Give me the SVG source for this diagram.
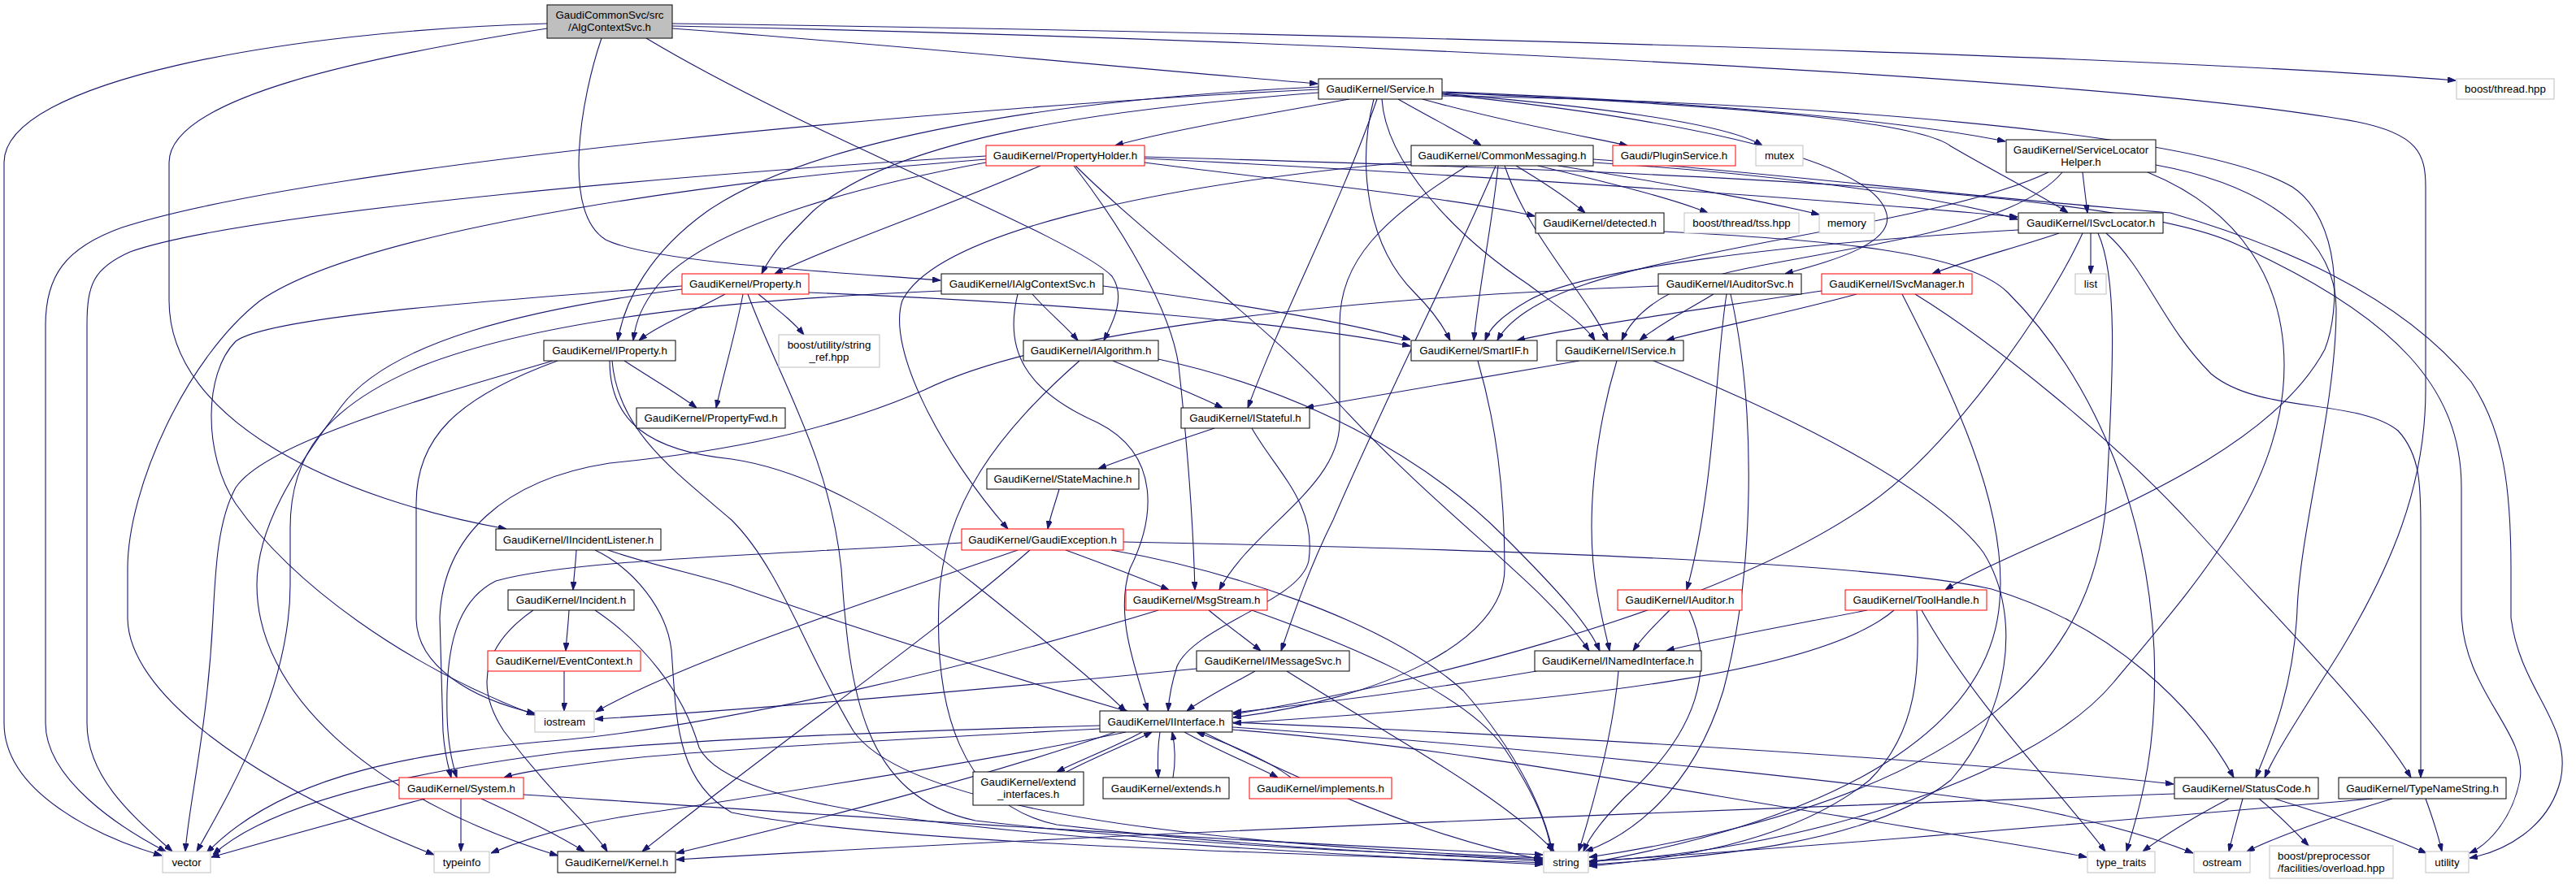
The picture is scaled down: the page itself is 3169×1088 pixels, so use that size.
<svg xmlns="http://www.w3.org/2000/svg" width="3169" height="1088" viewBox="0 0 3169 1088">
<defs>
<marker id="a" markerWidth="10" markerHeight="7" refX="10" refY="3.5" orient="auto" markerUnits="userSpaceOnUse"><path d="M0,0 L10,3.5 L0,7 z" fill="#191970" stroke="#191970" stroke-width="1"/></marker>
<style>
.e{fill:none;stroke:#191970;stroke-width:1.1;marker-end:url(#a)}
.n rect{fill:#fff;stroke:#000;stroke-width:1}
.r rect{fill:#fff;stroke:#ff0000;stroke-width:1}
.g rect{fill:#fff;stroke:#bfbfbf;stroke-width:1}
.root rect{fill:#bfbfbf;stroke:#000;stroke-width:1}
text{font-family:"Liberation Sans",Arial,Helvetica,sans-serif;font-size:13.3px;fill:#000;text-anchor:middle}
</style>
</defs>
<rect width="3169" height="1088" fill="#fff"/>
<g id="edges">
<path class="e" d="M673,29 C350,38 5,100 5,200 L5,890 C5,975 120,1030 199,1053"/>
<path class="e" d="M673,35 C450,70 208,120 208,200 L208,370 C208,520 420,615 623,651"/>
<path class="e" d="M740,47 C715,120 690,260 745,295 C800,322 1000,333 1157,345"/>
<path class="e" d="M795,47 C1000,170 1320,290 1368,340 C1385,365 1370,395 1358,419"/>
<path class="e" d="M827,35 C1100,55 1400,85 1621,103"/>
<path class="e" d="M827,29 C1500,38 2600,65 3021,99"/>
<path class="e" d="M827,32 C1600,48 2600,95 2900,150 C2975,165 2984,190 2984,230 L2984,480 C2984,600 2940,700 2880,800 C2830,880 2800,925 2786,957"/>
<path class="e" d="M1622,110 C1200,130 400,200 150,280 C80,305 56,340 56,400 L56,890 C56,960 150,1020 204,1048"/>
<path class="e" d="M1660,122 C1560,140 1440,160 1372,179"/>
<path class="e" d="M1622,114 C1350,135 1100,170 1000,260 C970,290 950,310 937,337"/>
<path class="e" d="M1622,107 C1300,122 1000,170 870,260 C800,310 768,370 760,419"/>
<path class="e" d="M1720,122 C1760,145 1800,165 1822,179"/>
<path class="e" d="M1750,122 C1850,150 1950,168 2002,179"/>
<path class="e" d="M1774,115 C1950,130 2120,150 2168,179"/>
<path class="e" d="M1774,113 C2100,125 2350,150 2467,174"/>
<path class="e" d="M1774,114 C2150,130 2360,150 2400,180 C2460,215 2520,245 2544,262"/>
<path class="e" d="M1690,122 C1670,200 1680,300 1740,360 C1760,380 1775,400 1784,419"/>
<path class="e" d="M1700,122 C1705,200 1790,290 1880,350 C1920,380 1950,400 1962,419"/>
<path class="e" d="M1694,122 C1650,250 1580,380 1535,502"/>
<path class="e" d="M1774,116 C2100,150 2300,200 2320,260 C2335,300 2250,322 2196,337"/>
<path class="e" d="M1774,118 C2200,125 2700,160 2820,230 C2880,270 2880,380 2860,430 C2780,580 2500,660 2393,726"/>
<path class="e" d="M1213,192 C900,210 300,260 160,310 C115,330 107,350 107,400 L107,890 C107,960 170,1010 212,1048"/>
<path class="e" d="M1213,196 C900,220 450,280 320,370 C230,440 157,600 157,700 L157,760 C157,850 300,960 534,1052"/>
<path class="e" d="M1280,204 C1150,260 1030,300 953,337"/>
<path class="e" d="M1213,200 C1050,230 870,280 810,350 C790,375 782,395 779,419"/>
<path class="e" d="M1321,204 C1380,280 1440,380 1450,450 C1462,560 1468,650 1470,726"/>
<path class="e" d="M1323,204 C1420,300 1560,400 1650,500 C1780,640 1900,720 1955,801"/>
<path class="e" d="M1408,200 C1600,225 1800,245 1888,266"/>
<path class="e" d="M1408,195 C1900,220 2300,250 2482,267"/>
<path class="e" d="M1408,193 C2000,210 2600,230 2750,300 C2950,390 3028,480 3028,600 L3028,750 C3028,850 3110,900 3100,960 C3090,1010 3060,1040 3038,1050"/>
<path class="e" d="M1736,199 C1400,230 1150,290 1110,370 C1090,430 1160,560 1240,651"/>
<path class="e" d="M1805,204 C1700,270 1648,320 1648,400 L1648,520 C1648,600 1540,650 1500,726"/>
<path class="e" d="M1840,204 C1800,300 1700,500 1640,640 C1610,700 1590,760 1576,801"/>
<path class="e" d="M1843,204 C1835,280 1820,350 1813,419"/>
<path class="e" d="M1851,204 C1880,290 1950,360 1978,419"/>
<path class="e" d="M1865,204 C1900,225 1930,245 1950,262"/>
<path class="e" d="M1892,204 C1980,225 2060,245 2101,262"/>
<path class="e" d="M1917,204 C2050,225 2180,250 2238,264"/>
<path class="e" d="M1960,200 C2200,215 2400,245 2482,270"/>
<path class="e" d="M1960,196 C2200,215 2400,240 2670,262 C2800,300 2950,360 3040,470 C3080,530 3089,600 3089,700 L3089,760 C3100,850 3165,890 3150,960 C3135,1020 3080,1048 3038,1056"/>
<path class="e" d="M2562,212 C2564,230 2566,245 2568,262"/>
<path class="e" d="M2652,203 C2800,230 2874,300 2874,380 C2874,500 2830,650 2826,750 C2822,850 2790,920 2775,957"/>
<path class="e" d="M2642,212 C2760,260 2810,350 2810,450 C2810,600 2700,720 2600,840 C2500,960 2200,1050 1955,1060"/>
<path class="e" d="M2520,212 C2400,270 2100,300 1950,350 C1890,370 1855,395 1842,419"/>
<path class="e" d="M2537,212 C2480,280 2300,300 2150,330 C2050,350 2010,385 1995,419"/>
<path class="e" d="M2533,287 C2480,305 2420,320 2377,337"/>
<path class="e" d="M2572,287 L2572,337"/>
<path class="e" d="M2562,287 C2520,380 2400,550 2300,620 C2100,760 1700,850 1517,879"/>
<path class="e" d="M2581,287 C2605,340 2600,450 2592,600 C2585,800 2450,980 1955,1055"/>
<path class="e" d="M2591,287 C2640,330 2660,400 2720,460 C2780,510 2900,490 2950,530 C2978,560 2978,600 2978,650 L2978,957"/>
<path class="e" d="M2483,283 C2200,300 1950,330 1880,370 C1845,390 1832,405 1827,419"/>
<path class="e" d="M2284,362 C2200,385 2100,405 2050,419"/>
<path class="e" d="M2241,358 C2100,380 1950,400 1866,419"/>
<path class="e" d="M2356,362 C2450,420 2600,540 2700,650 C2800,760 2920,880 2966,957"/>
<path class="e" d="M2340,362 C2400,480 2470,620 2460,740 C2450,880 2300,1000 1955,1062"/>
<path class="e" d="M2108,362 C2070,385 2040,400 2017,419"/>
<path class="e" d="M2124,362 C2110,450 2110,600 2075,726"/>
<path class="e" d="M2129,362 C2160,500 2160,700 2120,850 C2080,980 2000,1030 1950,1048"/>
<path class="e" d="M2040,352 C1700,365 1300,400 1137,480 C1000,540 850,560 750,570 C620,590 545,660 541,760 L545,900 C547,930 552,945 555,957"/>
<path class="e" d="M1270,362 C1290,385 1310,400 1326,419"/>
<path class="e" d="M1252,362 C1235,430 1260,480 1350,520 C1430,560 1420,640 1390,700 C1370,760 1400,830 1412,875"/>
<path class="e" d="M1158,358 C1000,365 700,380 520,450 C400,500 357,560 357,650 L357,720 C357,850 280,980 242,1048"/>
<path class="e" d="M1357,352 C1500,370 1650,395 1735,418"/>
<path class="e" d="M892,362 C850,385 810,400 786,419"/>
<path class="e" d="M914,362 C905,410 890,460 881,502"/>
<path class="e" d="M933,362 C955,380 975,395 989,412"/>
<path class="e" d="M920,362 C960,470 1020,560 1035,700 C1045,850 1060,980 1200,1010 C1500,1045 1750,1050 1898,1058"/>
<path class="e" d="M995,360 C1300,372 1600,398 1735,426"/>
<path class="e" d="M839,352 C600,370 330,390 290,420 C250,460 250,560 290,620 C360,720 500,820 658,880"/>
<path class="e" d="M839,356 C650,380 480,420 420,500 C360,580 316,650 316,720 C316,850 450,980 686,1053"/>
<path class="e" d="M768,444 C800,465 835,485 857,502"/>
<path class="e" d="M686,444 C560,490 512,540 512,620 L512,760 C512,820 580,860 658,878"/>
<path class="e" d="M680,444 C560,480 330,540 290,600 C268,640 265,700 262,760 C255,900 232,990 228,1048"/>
<path class="e" d="M750,444 C750,520 800,555 900,565 C1000,580 1100,640 1200,720 C1300,800 1360,850 1385,876"/>
<path class="e" d="M753,444 C760,530 830,580 900,640 C960,700 990,800 1050,900 C1120,1000 1500,1040 1898,1056"/>
<path class="e" d="M1369,444 C1420,465 1470,485 1504,502"/>
<path class="e" d="M1425,442 C1600,480 1750,560 1850,660 C1920,730 1955,770 1968,801"/>
<path class="e" d="M1328,444 C1230,530 1160,620 1155,740 C1150,870 1180,990 1300,1015 C1550,1045 1780,1052 1898,1060"/>
<path class="e" d="M1818,444 C1840,520 1851,600 1851,700 C1851,790 1700,860 1517,883"/>
<path class="e" d="M1943,444 C1820,465 1700,485 1606,502"/>
<path class="e" d="M1989,444 C1960,540 1950,650 1965,730 C1972,770 1978,790 1980,801"/>
<path class="e" d="M2034,444 C2200,510 2380,600 2440,680 C2490,760 2470,880 2400,960 C2300,1040 2100,1055 1955,1064"/>
<path class="e" d="M1494,527 C1440,545 1390,562 1351,577"/>
<path class="e" d="M1540,527 C1570,580 1620,620 1610,690 C1600,740 1470,770 1448,820 C1440,845 1438,860 1437,875"/>
<path class="e" d="M1303,602 C1298,620 1292,635 1289,651"/>
<path class="e" d="M709,677 C708,695 706,710 705,726"/>
<path class="e" d="M748,677 C800,695 850,705 900,720 C1100,790 1300,850 1388,876"/>
<path class="e" d="M732,677 C780,700 820,750 826,800 C832,880 830,960 900,1000 C1100,1040 1600,1050 1898,1062"/>
<path class="e" d="M1311,677 C1360,695 1405,712 1438,726"/>
<path class="e" d="M1183,668 C900,685 700,690 610,715 C560,740 548,800 550,880 C551,920 558,945 562,957"/>
<path class="e" d="M1382,667 C1800,675 2300,690 2450,725 C2600,770 2700,870 2748,957"/>
<path class="e" d="M1252,677 C1100,730 850,810 733,876"/>
<path class="e" d="M1267,677 C1150,780 950,920 790,1048"/>
<path class="e" d="M1367,677 C1500,700 1700,760 1800,850 C1870,930 1900,1000 1910,1048"/>
<path class="e" d="M700,751 C699,770 697,785 696,801"/>
<path class="e" d="M656,751 C600,790 580,840 620,900 C680,980 730,1020 747,1048"/>
<path class="e" d="M732,751 C790,790 840,850 860,920 C900,1000 1200,1030 1898,1064"/>
<path class="e" d="M1487,751 C1510,770 1535,788 1551,801"/>
<path class="e" d="M1425,751 C1200,820 900,890 700,910 C520,925 350,950 254,1050"/>
<path class="e" d="M1540,751 C1650,790 1800,850 1850,920 C1890,980 1905,1020 1908,1048"/>
<path class="e" d="M2054,751 C2035,770 2020,785 2009,801"/>
<path class="e" d="M2078,751 C2110,820 2090,900 2000,980 C1970,1010 1955,1030 1948,1048"/>
<path class="e" d="M2297,751 C2200,770 2100,788 2050,801"/>
<path class="e" d="M2330,751 C2250,820 2000,860 1517,890"/>
<path class="e" d="M2358,751 C2362,820 2360,900 2300,960 C2200,1040 2050,1058 1955,1066"/>
<path class="e" d="M2364,751 C2430,870 2540,980 2590,1048"/>
<path class="e" d="M694,826 C694,845 694,860 694,875"/>
<path class="e" d="M1472,823 C1200,850 900,875 732,885"/>
<path class="e" d="M1544,826 C1510,845 1480,860 1460,875"/>
<path class="e" d="M1583,826 C1700,900 1850,980 1912,1048"/>
<path class="e" d="M1890,826 C1750,850 1600,868 1517,877"/>
<path class="e" d="M1991,826 C1985,900 1960,990 1942,1048"/>
<path class="e" d="M1405,901 C1370,920 1330,935 1300,950"/>
<path class="e" d="M1312,950 C1350,930 1390,915 1417,901"/>
<path class="e" d="M1427,901 C1424,920 1424,940 1425,957"/>
<path class="e" d="M1443,957 C1446,940 1446,920 1442,901"/>
<path class="e" d="M1457,901 C1500,925 1550,945 1572,957"/>
<path class="e" d="M1588,957 C1560,935 1510,915 1472,901"/>
<path class="e" d="M1353,893 C1100,900 850,910 700,925 C500,950 330,990 262,1052"/>
<path class="e" d="M1353,897 C1100,910 850,925 760,935 C680,945 640,950 620,957"/>
<path class="e" d="M1385,901 C1200,940 900,985 780,1003 C700,1015 640,1035 604,1050"/>
<path class="e" d="M1372,901 C1200,960 1000,1010 832,1050"/>
<path class="e" d="M1516,889 C1900,905 2400,935 2674,965"/>
<path class="e" d="M1516,895 C1900,920 2400,975 2500,995 C2600,1015 2660,1035 2698,1050"/>
<path class="e" d="M1516,898 C1800,920 2100,980 2300,1010 C2450,1035 2520,1045 2567,1055"/>
<path class="e" d="M1480,901 C1600,960 1750,1030 1897,1058"/>
<path class="e" d="M523,983 C420,1010 330,1035 260,1055"/>
<path class="e" d="M567,983 C567,1005 567,1030 567,1048"/>
<path class="e" d="M592,983 C640,1005 690,1030 719,1048"/>
<path class="e" d="M644,978 C900,995 1400,1030 1898,1052"/>
<path class="e" d="M2675,977 C2000,1000 1300,1030 832,1058"/>
<path class="e" d="M2742,983 C2700,1005 2660,1030 2636,1048"/>
<path class="e" d="M2759,983 C2753,1005 2746,1030 2742,1048"/>
<path class="e" d="M2779,983 C2800,1000 2825,1025 2840,1041"/>
<path class="e" d="M2798,983 C2870,1005 2940,1030 2985,1050"/>
<path class="e" d="M2919,983 C2600,1010 2200,1045 1955,1060"/>
<path class="e" d="M2943,983 C2870,1005 2800,1030 2764,1048"/>
<path class="e" d="M2984,983 C2992,1005 3000,1030 3004,1048"/>
<path class="e" d="M2047,285 C2250,295 2420,310 2470,360 C2560,450 2640,600 2650,800 C2655,930 2630,1000 2616,1048"/>
</g>
<g id="n_root" class="root"><rect x="673" y="6" width="154" height="41"/><text x="750" y="22.5">GaudiCommonSvc/src</text><text x="750" y="37.5">/AlgContextSvc.h</text></g>
<g id="n_service" class="n"><rect x="1622" y="97" width="152" height="25"/><text x="1698" y="114">GaudiKernel/Service.h</text></g>
<g id="n_bthread" class="g"><rect x="3022" y="97" width="120" height="25"/><text x="3082" y="114">boost/thread.hpp</text></g>
<g id="n_propholder" class="r"><rect x="1213" y="179" width="195" height="25"/><text x="1310.5" y="196">GaudiKernel/PropertyHolder.h</text></g>
<g id="n_commonmsg" class="n"><rect x="1736" y="179" width="224" height="25"/><text x="1848" y="196">GaudiKernel/CommonMessaging.h</text></g>
<g id="n_plugin" class="r"><rect x="1984" y="179" width="151" height="25"/><text x="2059.5" y="196">Gaudi/PluginService.h</text></g>
<g id="n_mutex" class="g"><rect x="2160" y="179" width="58" height="25"/><text x="2189" y="196">mutex</text></g>
<g id="n_slhelper" class="n"><rect x="2468" y="172" width="184" height="40"/><text x="2560" y="188.5">GaudiKernel/ServiceLocator</text><text x="2560" y="203.5">Helper.h</text></g>
<g id="n_detected" class="n"><rect x="1889" y="262" width="158" height="25"/><text x="1968" y="279">GaudiKernel/detected.h</text></g>
<g id="n_tss" class="g"><rect x="2072" y="262" width="141" height="25"/><text x="2142.5" y="279">boost/thread/tss.hpp</text></g>
<g id="n_memory" class="g"><rect x="2238" y="262" width="68" height="25"/><text x="2272" y="279">memory</text></g>
<g id="n_isvclocator" class="n"><rect x="2483" y="262" width="178" height="25"/><text x="2572" y="279">GaudiKernel/ISvcLocator.h</text></g>
<g id="n_property" class="r"><rect x="839" y="337" width="156" height="25"/><text x="917" y="354">GaudiKernel/Property.h</text></g>
<g id="n_ialgctx" class="n"><rect x="1158" y="337" width="199" height="25"/><text x="1257.5" y="354">GaudiKernel/IAlgContextSvc.h</text></g>
<g id="n_iauditorsvc" class="n"><rect x="2040" y="337" width="176" height="25"/><text x="2128" y="354">GaudiKernel/IAuditorSvc.h</text></g>
<g id="n_isvcmanager" class="r"><rect x="2241" y="337" width="185" height="25"/><text x="2333.5" y="354">GaudiKernel/ISvcManager.h</text></g>
<g id="n_list" class="g"><rect x="2553" y="337" width="38" height="25"/><text x="2572" y="354">list</text></g>
<g id="n_iproperty" class="n"><rect x="669" y="419" width="162" height="25"/><text x="750" y="436">GaudiKernel/IProperty.h</text></g>
<g id="n_bstring" class="g"><rect x="958" y="412" width="124" height="40"/><text x="1020" y="428.5">boost/utility/string</text><text x="1020" y="443.5">_ref.hpp</text></g>
<g id="n_ialgorithm" class="n"><rect x="1259" y="419" width="166" height="25"/><text x="1342" y="436">GaudiKernel/IAlgorithm.h</text></g>
<g id="n_smartif" class="n"><rect x="1736" y="419" width="155" height="25"/><text x="1813.5" y="436">GaudiKernel/SmartIF.h</text></g>
<g id="n_iservice" class="n"><rect x="1915" y="419" width="156" height="25"/><text x="1993" y="436">GaudiKernel/IService.h</text></g>
<g id="n_propfwd" class="n"><rect x="783" y="502" width="183" height="25"/><text x="874.5" y="519">GaudiKernel/PropertyFwd.h</text></g>
<g id="n_istateful" class="n"><rect x="1453" y="502" width="158" height="25"/><text x="1532" y="519">GaudiKernel/IStateful.h</text></g>
<g id="n_statemachine" class="n"><rect x="1214" y="577" width="187" height="25"/><text x="1307.5" y="594">GaudiKernel/StateMachine.h</text></g>
<g id="n_iinclistener" class="n"><rect x="610" y="651" width="203" height="26"/><text x="711.5" y="668.5">GaudiKernel/IIncidentListener.h</text></g>
<g id="n_gaudiexc" class="r"><rect x="1183" y="651" width="199" height="26"/><text x="1282.5" y="668.5">GaudiKernel/GaudiException.h</text></g>
<g id="n_incident" class="n"><rect x="625" y="726" width="155" height="25"/><text x="702.5" y="743">GaudiKernel/Incident.h</text></g>
<g id="n_msgstream" class="r"><rect x="1385" y="726" width="174" height="25"/><text x="1472" y="743">GaudiKernel/MsgStream.h</text></g>
<g id="n_iauditor" class="r"><rect x="1990" y="726" width="153" height="25"/><text x="2066.5" y="743">GaudiKernel/IAuditor.h</text></g>
<g id="n_toolhandle" class="r"><rect x="2270" y="726" width="174" height="25"/><text x="2357" y="743">GaudiKernel/ToolHandle.h</text></g>
<g id="n_eventctx" class="r"><rect x="600" y="801" width="188" height="25"/><text x="694" y="818">GaudiKernel/EventContext.h</text></g>
<g id="n_imsgsvc" class="n"><rect x="1472" y="801" width="188" height="25"/><text x="1566" y="818">GaudiKernel/IMessageSvc.h</text></g>
<g id="n_inamed" class="n"><rect x="1888" y="801" width="205" height="25"/><text x="1990.5" y="818">GaudiKernel/INamedInterface.h</text></g>
<g id="n_iostream" class="g"><rect x="658" y="875" width="73" height="26"/><text x="694.5" y="892.5">iostream</text></g>
<g id="n_iinterface" class="n"><rect x="1353" y="875" width="163" height="26"/><text x="1434.5" y="892.5">GaudiKernel/IInterface.h</text></g>
<g id="n_system" class="r"><rect x="491" y="957" width="153" height="26"/><text x="567.5" y="974.5">GaudiKernel/System.h</text></g>
<g id="n_extendif" class="n"><rect x="1197" y="950" width="136" height="41"/><text x="1265" y="966.5">GaudiKernel/extend</text><text x="1265" y="981.5">_interfaces.h</text></g>
<g id="n_extends" class="n"><rect x="1357" y="957" width="155" height="26"/><text x="1434.5" y="974.5">GaudiKernel/extends.h</text></g>
<g id="n_implements" class="r"><rect x="1537" y="957" width="175" height="26"/><text x="1624.5" y="974.5">GaudiKernel/implements.h</text></g>
<g id="n_statuscode" class="n"><rect x="2675" y="957" width="177" height="26"/><text x="2763.5" y="974.5">GaudiKernel/StatusCode.h</text></g>
<g id="n_typename" class="n"><rect x="2877" y="957" width="206" height="26"/><text x="2980" y="974.5">GaudiKernel/TypeNameString.h</text></g>
<g id="n_vector" class="g"><rect x="200" y="1048" width="59" height="26"/><text x="229.5" y="1065.5">vector</text></g>
<g id="n_typeinfo" class="g"><rect x="534" y="1048" width="68" height="26"/><text x="568" y="1065.5">typeinfo</text></g>
<g id="n_kernel" class="n"><rect x="686" y="1048" width="145" height="26"/><text x="758.5" y="1065.5">GaudiKernel/Kernel.h</text></g>
<g id="n_string" class="g"><rect x="1899" y="1048" width="55" height="26"/><text x="1926.5" y="1065.5">string</text></g>
<g id="n_typetraits" class="g"><rect x="2568" y="1048" width="83" height="26"/><text x="2609.5" y="1065.5">type_traits</text></g>
<g id="n_ostream" class="g"><rect x="2699" y="1048" width="69" height="26"/><text x="2733.5" y="1065.5">ostream</text></g>
<g id="n_bpp" class="g"><rect x="2792" y="1041" width="152" height="40"/><text x="2802" y="1057.5" style="text-anchor:start">boost/preprocessor</text><text x="2802" y="1072.5" style="text-anchor:start">/facilities/overload.hpp</text></g>
<g id="n_utility" class="g"><rect x="2984" y="1048" width="53" height="26"/><text x="3010.5" y="1065.5">utility</text></g>
</svg>
